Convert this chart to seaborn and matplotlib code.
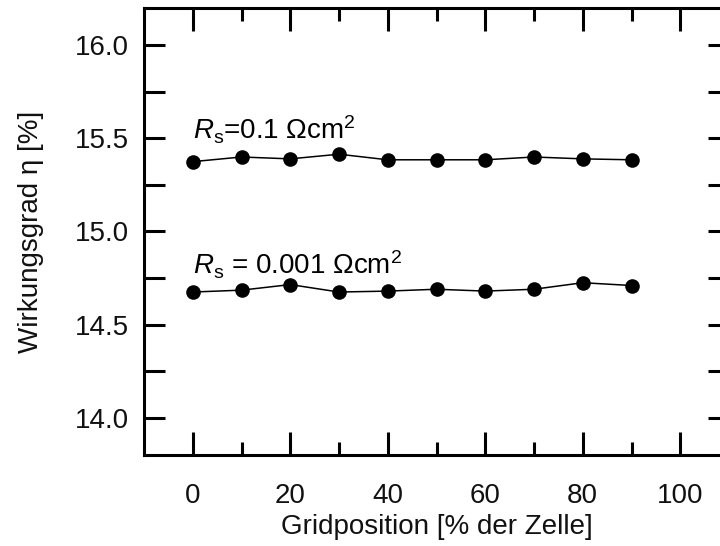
import matplotlib
matplotlib.use("Agg")
import matplotlib.pyplot as plt
from matplotlib.ticker import FixedLocator
import seaborn as sns
import pandas as pd

# Data
gridposition = [0, 10, 20, 30, 40, 50, 60, 70, 80, 90]
eta_rs_01 = [15.375, 15.40, 15.39, 15.415, 15.385, 15.385, 15.385, 15.40, 15.39, 15.385]
eta_rs_0001 = [14.675, 14.685, 14.715, 14.675, 14.68, 14.69, 14.68, 14.69, 14.725, 14.71]
series_names = ["Rs=0.1", "Rs=0.001"]
label_01 = r"$R_\mathrm{s}$=0.1 Ωcm$^2$"
label_0001 = r"$R_\mathrm{s}$ = 0.001 Ωcm$^2$"
x_ticks = [0, 20, 40, 60, 80, 100]
x_minor_ticks = [10, 30, 50, 70, 90]
y_ticks = [14.0, 14.5, 15.0, 15.5, 16.0]
y_minor_ticks = [14.25, 14.75, 15.25, 15.75]

df = pd.DataFrame({
    "x": [float(v) for v in gridposition * 2],
    "eta": eta_rs_01 + eta_rs_0001,
    "series": [series_names[0]] * len(gridposition) + [series_names[1]] * len(gridposition),
})

sns.set_style("white", {"xtick.bottom": True, "xtick.top": True,
                        "ytick.left": True, "ytick.right": True})
plt.rcParams["font.family"] = ["Liberation Sans", "DejaVu Sans"]
plt.rcParams["mathtext.fontset"] = "custom"
plt.rcParams["mathtext.rm"] = "Liberation Sans"
plt.rcParams["mathtext.it"] = "Liberation Sans:italic"
plt.rcParams["mathtext.bf"] = "Liberation Sans:bold"

fig = plt.figure(figsize=(7.2, 5.46), dpi=100)
ax = fig.add_axes([144 / 720, (546 - 455) / 546, 585 / 720, 447 / 546])

sns.lineplot(data=df, x="x", y="eta", hue="series", palette=["black", "black"],
             marker="o", markersize=10.5, markeredgewidth=0, linewidth=1.1,
             legend=False, ax=ax)

ax.set_xlim(-10, 110)
ax.set_ylim(13.8, 16.2)
ax.xaxis.set_major_locator(FixedLocator(x_ticks))
ax.xaxis.set_minor_locator(FixedLocator(x_minor_ticks))
ax.yaxis.set_major_locator(FixedLocator(y_ticks))
ax.yaxis.set_minor_locator(FixedLocator(y_minor_ticks))
ax.set_yticklabels([f"{v:.1f}" for v in y_ticks])

ax.tick_params(axis="x", which="major", direction="in", top=True, bottom=True,
               length=16.5, width=2.2, color="black", pad=20,
               labelsize=20, labelcolor="#111111")
ax.tick_params(axis="x", which="minor", direction="in", top=True, bottom=True,
               length=9.5, width=2.2, color="black")
ax.tick_params(axis="y", which="major", direction="in", left=True, right=True,
               length=15, width=2.2, color="black", pad=11,
               labelsize=20, labelcolor="#111111")
ax.tick_params(axis="y", which="minor", direction="in", left=True, right=True,
               length=15, width=2.2, color="black")

for s in ax.spines.values():
    s.set_visible(True)
    s.set_linewidth(2.2)
    s.set_color("black")

ax.set_xlabel("Gridposition [% der Zelle]", fontsize=20, color="#111111", labelpad=4)
ax.set_ylabel("Wirkungsgrad η [%]", fontsize=20, color="#111111", labelpad=22)

ax.text(0, 15.495, label_01, fontsize=20, color="black", ha="left", va="baseline")
ax.text(0, 14.77, label_0001, fontsize=20, color="black", ha="left", va="baseline")

fig.savefig("out.png", dpi=100)
